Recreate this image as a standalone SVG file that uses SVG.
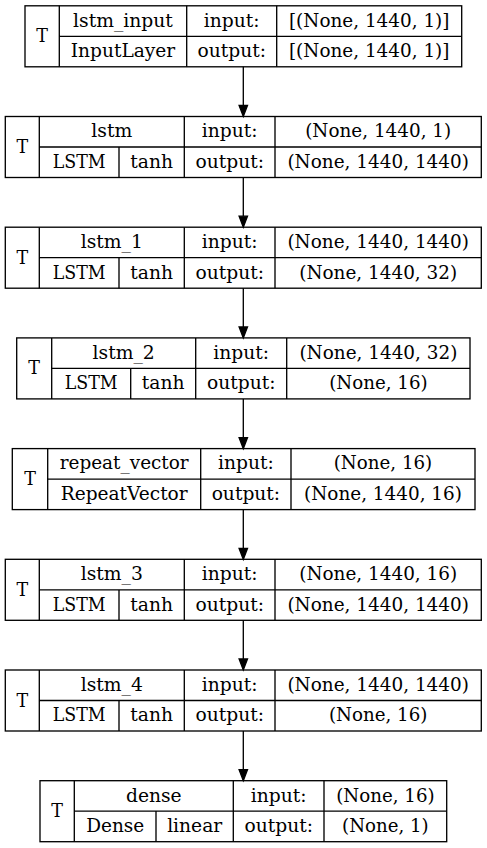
<svg xmlns="http://www.w3.org/2000/svg" width="487" height="848" viewBox="0 0 487 848" font-family="'DejaVu Serif','Liberation Serif',serif">
<style>
.box{fill:#fff;stroke:#000;stroke-width:1.33}
.ln{fill:none;stroke:#000;stroke-width:1.33}
text{font-family:'DejaVu Serif','Liberation Serif',serif;font-size:19px;fill:#000;text-anchor:middle}
.edge{stroke:#000;stroke-width:1.33;fill:none}
.head{fill:#000;stroke:#000;stroke-width:1.33}
</style>
<rect width="487" height="848" fill="#fff"/>

<g id="lstm_input">
<rect class="box" x="25" y="5.8" width="436.7" height="61"/>
<path class="ln" d="M59.3 5.8V66.8M186.7 5.8V66.8M276.7 5.8V66.8M59.3 36.3H461.7"/>
<text x="42.2" y="42.3" textLength="11.7" lengthAdjust="spacingAndGlyphs">T</text>
<text x="123" y="26.5" textLength="99.8" lengthAdjust="spacingAndGlyphs">lstm_input</text>
<text x="231.7" y="26.5" textLength="55.8" lengthAdjust="spacingAndGlyphs">input:</text>
<text x="369.2" y="26.5" textLength="160.5" lengthAdjust="spacingAndGlyphs">[(None, 1440, 1)]</text>
<text x="123" y="57" textLength="104.5" lengthAdjust="spacingAndGlyphs">InputLayer</text>
<text x="231.7" y="57" textLength="68.5" lengthAdjust="spacingAndGlyphs">output:</text>
<text x="369.2" y="57" textLength="160.5" lengthAdjust="spacingAndGlyphs">[(None, 1440, 1)]</text>
</g>

<g id="lstm">
<rect class="box" x="5.3" y="116.5" width="476" height="61"/>
<path class="ln" d="M39.3 116.5V177.5M184.3 116.5V177.5M275 116.5V177.5M39.3 147H481.3M119 147V177.5"/>
<text x="22.3" y="153" textLength="11.7" lengthAdjust="spacingAndGlyphs">T</text>
<text x="111.8" y="137.3" textLength="41" lengthAdjust="spacingAndGlyphs">lstm</text>
<text x="229.7" y="137.3" textLength="55.8" lengthAdjust="spacingAndGlyphs">input:</text>
<text x="378.2" y="137.3" textLength="146" lengthAdjust="spacingAndGlyphs">(None, 1440, 1)</text>
<text x="79.2" y="167.8" textLength="52.9" lengthAdjust="spacingAndGlyphs">LSTM</text>
<text x="151.7" y="167.8" textLength="42.7" lengthAdjust="spacingAndGlyphs">tanh</text>
<text x="229.7" y="167.8" textLength="68.5" lengthAdjust="spacingAndGlyphs">output:</text>
<text x="378.2" y="167.8" textLength="181.6" lengthAdjust="spacingAndGlyphs">(None, 1440, 1440)</text>
</g>

<g id="lstm_1">
<rect class="box" x="5.3" y="227.2" width="476" height="61"/>
<path class="ln" d="M39.3 227.2V288.2M184.3 227.2V288.2M275 227.2V288.2M39.3 257.7H481.3M119 257.7V288.2"/>
<text x="22.3" y="263.7" textLength="11.7" lengthAdjust="spacingAndGlyphs">T</text>
<text x="111.8" y="248" textLength="62.2" lengthAdjust="spacingAndGlyphs">lstm_1</text>
<text x="229.7" y="248" textLength="55.8" lengthAdjust="spacingAndGlyphs">input:</text>
<text x="378.2" y="248" textLength="181.6" lengthAdjust="spacingAndGlyphs">(None, 1440, 1440)</text>
<text x="79.2" y="278.5" textLength="52.9" lengthAdjust="spacingAndGlyphs">LSTM</text>
<text x="151.7" y="278.5" textLength="42.7" lengthAdjust="spacingAndGlyphs">tanh</text>
<text x="229.7" y="278.5" textLength="68.5" lengthAdjust="spacingAndGlyphs">output:</text>
<text x="378.2" y="278.5" textLength="157.9" lengthAdjust="spacingAndGlyphs">(None, 1440, 32)</text>
</g>

<g id="lstm_2">
<rect class="box" x="16.7" y="337.9" width="453.3" height="61"/>
<path class="ln" d="M51.7 337.9V398.9M195.7 337.9V398.9M286.7 337.9V398.9M51.7 368.4H470M130.7 368.4V398.9"/>
<text x="34.2" y="374.4" textLength="11.7" lengthAdjust="spacingAndGlyphs">T</text>
<text x="123.7" y="358.7" textLength="62.2" lengthAdjust="spacingAndGlyphs">lstm_2</text>
<text x="241.2" y="358.7" textLength="55.8" lengthAdjust="spacingAndGlyphs">input:</text>
<text x="378.4" y="358.7" textLength="157.9" lengthAdjust="spacingAndGlyphs">(None, 1440, 32)</text>
<text x="91.2" y="389.2" textLength="52.9" lengthAdjust="spacingAndGlyphs">LSTM</text>
<text x="163.2" y="389.2" textLength="42.7" lengthAdjust="spacingAndGlyphs">tanh</text>
<text x="241.2" y="389.2" textLength="68.5" lengthAdjust="spacingAndGlyphs">output:</text>
<text x="378.4" y="389.2" textLength="98.5" lengthAdjust="spacingAndGlyphs">(None, 16)</text>
</g>

<g id="repeat_vector">
<rect class="box" x="12.3" y="448.6" width="462.7" height="61"/>
<path class="ln" d="M47.7 448.6V509.6M200.7 448.6V509.6M291 448.6V509.6M47.7 479.1H475"/>
<text x="30" y="485.1" textLength="11.7" lengthAdjust="spacingAndGlyphs">T</text>
<text x="124.2" y="469.4" textLength="129" lengthAdjust="spacingAndGlyphs">repeat_vector</text>
<text x="245.9" y="469.4" textLength="55.8" lengthAdjust="spacingAndGlyphs">input:</text>
<text x="383" y="469.4" textLength="98.5" lengthAdjust="spacingAndGlyphs">(None, 16)</text>
<text x="124.2" y="499.9" textLength="127" lengthAdjust="spacingAndGlyphs">RepeatVector</text>
<text x="245.9" y="499.9" textLength="68.5" lengthAdjust="spacingAndGlyphs">output:</text>
<text x="383" y="499.9" textLength="157.9" lengthAdjust="spacingAndGlyphs">(None, 1440, 16)</text>
</g>

<g id="lstm_3">
<rect class="box" x="5.3" y="559.3" width="476" height="61"/>
<path class="ln" d="M39.3 559.3V620.3M184.3 559.3V620.3M275 559.3V620.3M39.3 589.8H481.3M119 589.8V620.3"/>
<text x="22.3" y="595.8" textLength="11.7" lengthAdjust="spacingAndGlyphs">T</text>
<text x="111.8" y="580.1" textLength="62.2" lengthAdjust="spacingAndGlyphs">lstm_3</text>
<text x="229.7" y="580.1" textLength="55.8" lengthAdjust="spacingAndGlyphs">input:</text>
<text x="378.2" y="580.1" textLength="157.9" lengthAdjust="spacingAndGlyphs">(None, 1440, 16)</text>
<text x="79.2" y="610.6" textLength="52.9" lengthAdjust="spacingAndGlyphs">LSTM</text>
<text x="151.7" y="610.6" textLength="42.7" lengthAdjust="spacingAndGlyphs">tanh</text>
<text x="229.7" y="610.6" textLength="68.5" lengthAdjust="spacingAndGlyphs">output:</text>
<text x="378.2" y="610.6" textLength="181.6" lengthAdjust="spacingAndGlyphs">(None, 1440, 1440)</text>
</g>

<g id="lstm_4">
<rect class="box" x="5.3" y="670" width="476" height="61"/>
<path class="ln" d="M39.3 670V731M184.3 670V731M275 670V731M39.3 700.5H481.3M119 700.5V731"/>
<text x="22.3" y="706.5" textLength="11.7" lengthAdjust="spacingAndGlyphs">T</text>
<text x="111.8" y="690.8" textLength="62.2" lengthAdjust="spacingAndGlyphs">lstm_4</text>
<text x="229.7" y="690.8" textLength="55.8" lengthAdjust="spacingAndGlyphs">input:</text>
<text x="378.2" y="690.8" textLength="181.6" lengthAdjust="spacingAndGlyphs">(None, 1440, 1440)</text>
<text x="79.2" y="721.3" textLength="52.9" lengthAdjust="spacingAndGlyphs">LSTM</text>
<text x="151.7" y="721.3" textLength="42.7" lengthAdjust="spacingAndGlyphs">tanh</text>
<text x="229.7" y="721.3" textLength="68.5" lengthAdjust="spacingAndGlyphs">output:</text>
<text x="378.2" y="721.3" textLength="98.5" lengthAdjust="spacingAndGlyphs">(None, 16)</text>
</g>

<g id="dense">
<rect class="box" x="40" y="780.7" width="406.7" height="61"/>
<path class="ln" d="M74.3 780.7V841.7M233.3 780.7V841.7M324 780.7V841.7M74.3 811.2H446.7M156 811.2V841.7"/>
<text x="57.2" y="817.2" textLength="11.7" lengthAdjust="spacingAndGlyphs">T</text>
<text x="153.8" y="801.5" textLength="55.7" lengthAdjust="spacingAndGlyphs">dense</text>
<text x="278.7" y="801.5" textLength="55.8" lengthAdjust="spacingAndGlyphs">input:</text>
<text x="385.4" y="801.5" textLength="98.5" lengthAdjust="spacingAndGlyphs">(None, 16)</text>
<text x="115.2" y="832" textLength="58.1" lengthAdjust="spacingAndGlyphs">Dense</text>
<text x="194.7" y="832" textLength="55.1" lengthAdjust="spacingAndGlyphs">linear</text>
<text x="278.7" y="832" textLength="68.5" lengthAdjust="spacingAndGlyphs">output:</text>
<text x="385.4" y="832" textLength="86.6" lengthAdjust="spacingAndGlyphs">(None, 1)</text>
</g>

<g id="connectors">
<path class="edge" d="M243.3 66.8V105.5M243.3 177.5V216.2M243.3 288.2V326.9M243.3 398.9V437.6M243.3 509.6V548.3M243.3 620.3V659M243.3 731V769.7"/>
<polygon class="head" points="239.1,105.5 247.5,105.5 243.3,116.5"/>
<polygon class="head" points="239.1,216.2 247.5,216.2 243.3,227.2"/>
<polygon class="head" points="239.1,326.9 247.5,326.9 243.3,337.9"/>
<polygon class="head" points="239.1,437.6 247.5,437.6 243.3,448.6"/>
<polygon class="head" points="239.1,548.3 247.5,548.3 243.3,559.3"/>
<polygon class="head" points="239.1,659 247.5,659 243.3,670"/>
<polygon class="head" points="239.1,769.7 247.5,769.7 243.3,780.7"/>
</g>
</svg>
